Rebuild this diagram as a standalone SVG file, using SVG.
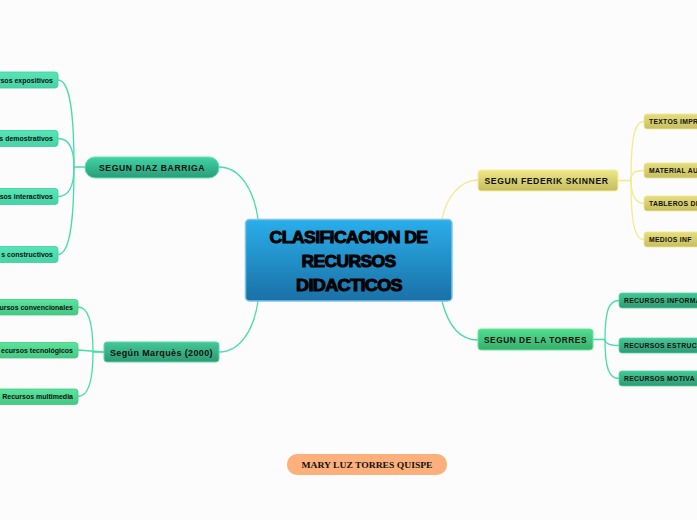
<svg xmlns="http://www.w3.org/2000/svg" width="697" height="520" viewBox="0 0 697 520">
<defs>
<linearGradient id="gBlue" x1="0" y1="0" x2="0" y2="1"><stop offset="0" stop-color="#2aaeea"/><stop offset="1" stop-color="#1a70a6"/></linearGradient>
<linearGradient id="gTeal" x1="0" y1="0" x2="0" y2="1"><stop offset="0" stop-color="#40d4a4"/><stop offset="1" stop-color="#2a9c78"/></linearGradient>
<linearGradient id="gTealL" x1="0" y1="0" x2="0" y2="1"><stop offset="0" stop-color="#55e6b6"/><stop offset="1" stop-color="#46d3a5"/></linearGradient>
<linearGradient id="gMarq" x1="0" y1="0" x2="0" y2="1"><stop offset="0" stop-color="#44c898"/><stop offset="1" stop-color="#2e9974"/></linearGradient>
<linearGradient id="gGreenL" x1="0" y1="0" x2="0" y2="1"><stop offset="0" stop-color="#5ae49c"/><stop offset="1" stop-color="#44c984"/></linearGradient>
<linearGradient id="gYel" x1="0" y1="0" x2="0" y2="1"><stop offset="0" stop-color="#eee88a"/><stop offset="1" stop-color="#c4bc5e"/></linearGradient>
<linearGradient id="gYelL" x1="0" y1="0" x2="0" y2="1"><stop offset="0" stop-color="#e6de7e"/><stop offset="1" stop-color="#c6be60"/></linearGradient>
<linearGradient id="gGreen" x1="0" y1="0" x2="0" y2="1"><stop offset="0" stop-color="#52de8e"/><stop offset="1" stop-color="#35ae6c"/></linearGradient>
<linearGradient id="gTealD" x1="0" y1="0" x2="0" y2="1"><stop offset="0" stop-color="#44c896"/><stop offset="1" stop-color="#2f9a74"/></linearGradient>
</defs>
<style>
.c{fill:none;stroke-width:1.3}
.ct{stroke:#48dcaa}
.cy{stroke:#f2ea8e}
.lbl{font-family:"Liberation Sans",Arial,sans-serif;font-weight:bold;fill:#111}
.mid{font-size:9px;text-anchor:middle;letter-spacing:0.6px}
.sm{font-size:7px}
.smr{font-size:6.8px;letter-spacing:0.3px}
.ctr{font-family:"Liberation Sans",Arial,sans-serif;font-weight:bold;font-size:17px;fill:#000;stroke:#000;stroke-width:1;text-anchor:middle;letter-spacing:-0.6px}
</style>
<rect x="0" y="0" width="697" height="520" fill="#fcfcfc"/>
<g id="connectors">
<path class="c ct" d="M219,167 C240,167 254,190 258,219"/>
<path class="c ct" d="M258,301 C254,330 240,352 219,352"/>
<path class="c cy" d="M442,219 C446,198 460,180 478,180"/>
<path class="c ct" d="M442,301 C448,325 460,340 478,340"/>
<path class="c ct" d="M58,80 C71,80 74,120 74,167 L85,167"/>
<path class="c ct" d="M58,138.5 C70,138.5 74,150 74,167"/>
<path class="c ct" d="M58,196.5 C70,196.5 74,185 74,167"/>
<path class="c ct" d="M58,254.5 C71,254.5 74,214 74,167"/>
<path class="c ct" d="M78,307 C90,307 93,330 93,352 L104,352"/>
<path class="c ct" d="M78,350 L104,352"/>
<path class="c ct" d="M78,396.5 C90,396.5 93,375 93,352"/>
<path class="c cy" d="M618,180.5 L631,180.5 C631,140 634,121.5 644,121.5"/>
<path class="c cy" d="M631,180.5 C631,172 636,170.5 644,170.5"/>
<path class="c cy" d="M631,180.5 C631,195 636,203.5 644,203.5"/>
<path class="c cy" d="M631,180.5 C631,220 634,239.5 644,239.5"/>
<path class="c ct" d="M593,339.5 L605,339.5 C605,310 609,300.5 619,300.5"/>
<path class="c ct" d="M605,339.5 C605,344 610,345.5 619,345.5"/>
<path class="c ct" d="M605,339.5 C605,368 609,378.5 619,378.5"/>
</g>
<g id="center">
<rect x="245.5" y="219.5" width="206.5" height="81.5" rx="4" fill="url(#gBlue)" stroke="#7cc4ec" stroke-width="1.5"/>
<text class="ctr" x="348.5" y="243" textLength="158" lengthAdjust="spacingAndGlyphs">CLASIFICACION DE</text>
<text class="ctr" x="348.5" y="267" textLength="94" lengthAdjust="spacingAndGlyphs">RECURSOS</text>
<text class="ctr" x="349" y="290.5" textLength="106" lengthAdjust="spacingAndGlyphs">DIDACTICOS</text>
</g>
<g id="diaz">
<rect x="85" y="157" width="134" height="21" rx="10" fill="url(#gTeal)" stroke="#5ee6b6" stroke-width="1"/>
<text class="lbl mid" x="152" y="171" textLength="106" lengthAdjust="spacingAndGlyphs">SEGUN DIAZ BARRIGA</text>
</g>
<g id="d1"><rect x="-10" y="72" width="68" height="16" rx="3" fill="url(#gTealL)" stroke="#3fcc9c" stroke-width="0.8"/><text class="lbl sm" x="53" y="82.5" text-anchor="end">rsos expositivos</text></g>
<g id="d2"><rect x="-10" y="130.5" width="68" height="16" rx="3" fill="url(#gTealL)" stroke="#3fcc9c" stroke-width="0.8"/><text class="lbl sm" x="53" y="141" text-anchor="end">s demostrativos</text></g>
<g id="d3"><rect x="-10" y="188.5" width="68" height="16" rx="3" fill="url(#gTealL)" stroke="#3fcc9c" stroke-width="0.8"/><text class="lbl sm" x="53" y="199" text-anchor="end">sos interactivos</text></g>
<g id="d4"><rect x="-10" y="246.5" width="68" height="16" rx="3" fill="url(#gTealL)" stroke="#3fcc9c" stroke-width="0.8"/><text class="lbl sm" x="53" y="257" text-anchor="end">s constructivos</text></g>
<g id="marques">
<rect x="104" y="342" width="115" height="20" rx="3" fill="url(#gMarq)" stroke="#5ad9aa" stroke-width="1"/>
<text class="lbl" x="161.5" y="356" font-size="9.4" text-anchor="middle" letter-spacing="0.4" textLength="103" lengthAdjust="spacingAndGlyphs">Según Marquès (2000)</text>
</g>
<g id="m1"><rect x="-10" y="299.5" width="88" height="15.5" rx="3" fill="url(#gGreenL)" stroke="#42c882" stroke-width="0.8"/><text class="lbl sm" x="73" y="309.5" text-anchor="end">ursos convencionales</text></g>
<g id="m2"><rect x="-10" y="342.5" width="88" height="15.5" rx="3" fill="url(#gGreenL)" stroke="#42c882" stroke-width="0.8"/><text class="lbl sm" x="73" y="352.5" text-anchor="end">ecursos tecnológicos</text></g>
<g id="m3"><rect x="-10" y="389" width="88" height="15.5" rx="3" fill="url(#gGreenL)" stroke="#42c882" stroke-width="0.8"/><text class="lbl sm" x="73" y="399" text-anchor="end">Recursos multimedia</text></g>
<g id="skinner">
<rect x="478" y="170" width="140" height="21" rx="3" fill="url(#gYel)" stroke="#f6ef94" stroke-width="1"/>
<text class="lbl mid" x="546.5" y="184" textLength="124" lengthAdjust="spacingAndGlyphs">SEGUN FEDERIK SKINNER</text>
</g>
<g id="s1"><rect x="644" y="114" width="70" height="15" rx="3" fill="url(#gYelL)" stroke="#f0e88c" stroke-width="0.8"/><text class="lbl smr" x="649" y="124">TEXTOS IMPR</text></g>
<g id="s2"><rect x="644" y="163" width="70" height="15" rx="3" fill="url(#gYelL)" stroke="#f0e88c" stroke-width="0.8"/><text class="lbl smr" x="649" y="173">MATERIAL AU</text></g>
<g id="s3"><rect x="644" y="196" width="70" height="15" rx="3" fill="url(#gYelL)" stroke="#f0e88c" stroke-width="0.8"/><text class="lbl smr" x="649" y="206">TABLEROS DI</text></g>
<g id="s4"><rect x="644" y="232" width="70" height="15" rx="3" fill="url(#gYelL)" stroke="#f0e88c" stroke-width="0.8"/><text class="lbl smr" x="649" y="242">MEDIOS INF</text></g>
<g id="torres">
<rect x="478" y="329" width="115" height="21" rx="3" fill="url(#gGreen)" stroke="#62e89c" stroke-width="1"/>
<text class="lbl mid" x="535.5" y="343" textLength="103" lengthAdjust="spacingAndGlyphs">SEGUN DE LA TORRES</text>
</g>
<g id="t1"><rect x="619" y="293" width="90" height="15" rx="3" fill="url(#gTealD)" stroke="#4ed6a4" stroke-width="0.8"/><text class="lbl smr" x="624" y="303">RECURSOS INFORMA</text></g>
<g id="t2"><rect x="619" y="338" width="90" height="15" rx="3" fill="url(#gTealD)" stroke="#4ed6a4" stroke-width="0.8"/><text class="lbl smr" x="624" y="348">RECURSOS ESTRUCT</text></g>
<g id="t3"><rect x="619" y="371" width="90" height="15" rx="3" fill="url(#gTealD)" stroke="#4ed6a4" stroke-width="0.8"/><text class="lbl smr" x="624" y="381">RECURSOS MOTIVA</text></g>
<g id="author">
<rect x="287" y="454" width="160" height="21" rx="10" fill="#fdb07c"/>
<text x="367" y="467.5" font-family="'Liberation Serif','Times New Roman',serif" font-weight="bold" font-size="8.5" fill="#111" text-anchor="middle" textLength="131" lengthAdjust="spacingAndGlyphs">MARY LUZ TORRES QUISPE</text>
</g>
</svg>
